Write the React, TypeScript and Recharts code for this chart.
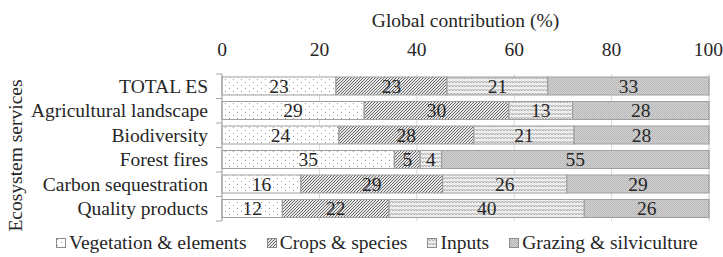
import { BarChart, Bar, XAxis, YAxis, CartesianGrid, LabelList } from "recharts";

const categories = [
  "TOTAL ES",
  "Agricultural landscape",
  "Biodiversity",
  "Forest fires",
  "Carbon sequestration",
  "Quality products",
];
const vegetation = [23.4, 29.2, 24.0, 35.4, 16.2, 12.4];
const crops = [22.8, 29.7, 27.7, 5.3, 29.1, 21.9];
const inputs = [20.7, 13.1, 20.6, 4.4, 25.5, 40.1];
const grazing = [33.1, 28.0, 27.7, 54.9, 29.2, 25.6];
const xTicks = [0, 20, 40, 60, 80, 100];

const series = [
  { key: "veg", name: "Vegetation & elements", fill: "url(#p-veg)" },
  { key: "crops", name: "Crops & species", fill: "url(#p-crops)" },
  { key: "inputs", name: "Inputs", fill: "url(#p-inputs)" },
  { key: "grazing", name: "Grazing & silviculture", fill: "url(#p-grazing)" },
];

const data = categories.map((c, i) => ({
  name: c,
  veg: vegetation[i],
  crops: crops[i],
  inputs: inputs[i],
  grazing: grazing[i],
}));

const FONT = "Liberation Serif";
const FS = 19.5;
const TEXT = "#262626";
const W = 723;
const H = 257;
const TOP = 74;
const BOTTOM = 221;
const BAND = (BOTTOM - TOP) / categories.length;

function Patterns() {
  return (
    <defs>
      <pattern id="p-veg" width="8" height="6" patternUnits="userSpaceOnUse">
        <rect width="8" height="6" fill="#ffffff" />
        <rect x="1" y="1" width="1" height="1" fill="#9a9a9a" />
        <rect x="5" y="4" width="1" height="1" fill="#9a9a9a" />
      </pattern>
      <pattern id="p-crops" width="3" height="3" patternUnits="userSpaceOnUse">
        <rect width="3" height="3" fill="#e6e6e6" />
        <path d="M-1,1 l2,-2 M0,3 l3,-3 M2,4 l2,-2" stroke="#6a6a6a" strokeWidth="1" />
      </pattern>
      <pattern id="p-inputs" width="6" height="4" patternUnits="userSpaceOnUse">
        <rect width="6" height="4" fill="#eeeeee" />
        <polyline points="0,3 1.5,1 3,3 4.5,1 6,3" fill="none" stroke="#b0b0b0" strokeWidth="1" />
      </pattern>
      <pattern id="p-grazing" width="2" height="2" patternUnits="userSpaceOnUse">
        <rect width="2" height="2" fill="#d2d2d2" />
        <rect x="0" y="0" width="1" height="1" fill="#b4b4b4" />
        <rect x="1" y="1" width="1" height="1" fill="#bcbcbc" />
      </pattern>
    </defs>
  );
}

function CategoryTick(props: any) {
  const { x, y, payload, index } = props;
  const axisX = x + 14;
  return (
    <g>
      <text
        x={x}
        y={y}
        textAnchor="end"
        dominantBaseline="central"
        fill={TEXT}
        fontSize={FS}
        style={{ fontFamily: FONT }}
      >
        {payload.value}
      </text>
      <line x1={axisX - 6} x2={axisX} y1={y - BAND / 2} y2={y - BAND / 2} stroke="#a6a6a6" />
      {index === categories.length - 1 && (
        <line x1={axisX - 6} x2={axisX} y1={y + BAND / 2} y2={y + BAND / 2} stroke="#a6a6a6" />
      )}
    </g>
  );
}

function YTitle(props: any) {
  const { viewBox } = props;
  const cx = 15;
  const cy = viewBox.y + viewBox.height / 2 + 8;
  return (
    <text
      x={cx}
      y={cy}
      transform={`rotate(-90 ${cx} ${cy})`}
      textAnchor="middle"
      dominantBaseline="central"
      fill={TEXT}
      fontSize={FS}
      style={{ fontFamily: FONT }}
    >
      Ecosystem services
    </text>
  );
}

function LegendBox() {
  return (
    <div
      style={{
        position: "absolute",
        left: 56,
        top: 233,
        display: "flex",
        gap: 20,
        fontFamily: FONT,
        fontSize: FS,
        color: TEXT,
        lineHeight: "20px",
        whiteSpace: "nowrap",
      }}
    >
      {series.map((s) => (
        <div key={s.key} style={{ display: "flex", alignItems: "center", gap: 3 }}>
          <svg width={10} height={10}>
            <rect x={0.5} y={0.5} width={9} height={9} fill={s.fill} stroke="#8c8c8c" />
          </svg>
          <span>{s.name}</span>
        </div>
      ))}
    </div>
  );
}

export default function App() {
  return (
    <div style={{ position: "absolute", left: 0, top: 0, width: W, height: H, background: "#fff" }}>
      <BarChart
        width={W}
        height={H}
        data={data}
        layout="vertical"
        barSize={18}
        style={{ fontFamily: FONT }}
        margin={{ top: TOP - 50, right: W - 709, bottom: H - BOTTOM, left: 0 }}
      >
        <Patterns />
        <CartesianGrid horizontal={false} stroke="#d9d9d9" />
        <XAxis
          type="number"
          orientation="top"
          domain={[0, 100]}
          ticks={xTicks}
          height={50}
          axisLine={false}
          tickLine={false}
          tickSize={0}
          tickMargin={18}
          tick={{ fill: TEXT, fontSize: FS }}
          label={{
            value: "Global contribution (%)",
            position: "top",
            offset: -3,
            fill: TEXT,
            fontSize: FS,
          }}
        />
        <YAxis
          type="category"
          dataKey="name"
          width={222}
          axisLine={{ stroke: "#a6a6a6" }}
          tickLine={false}
          tickSize={0}
          tickMargin={14}
          interval={0}
          tick={<CategoryTick />}
          label={<YTitle />}
        />
        {series.map((s) => (
          <Bar
            key={s.key}
            dataKey={s.key}
            name={s.name}
            stackId="a"
            fill={s.fill}
            stroke="#a0a0a0"
            strokeWidth={1.2}
            isAnimationActive={false}
          >
            <LabelList
              dataKey={s.key}
              position="center"
              formatter={(v: any) => Math.round(Number(v))}
              fill={TEXT}
              fontSize={FS}
            />
          </Bar>
        ))}
      </BarChart>
      <LegendBox />
    </div>
  );
}
